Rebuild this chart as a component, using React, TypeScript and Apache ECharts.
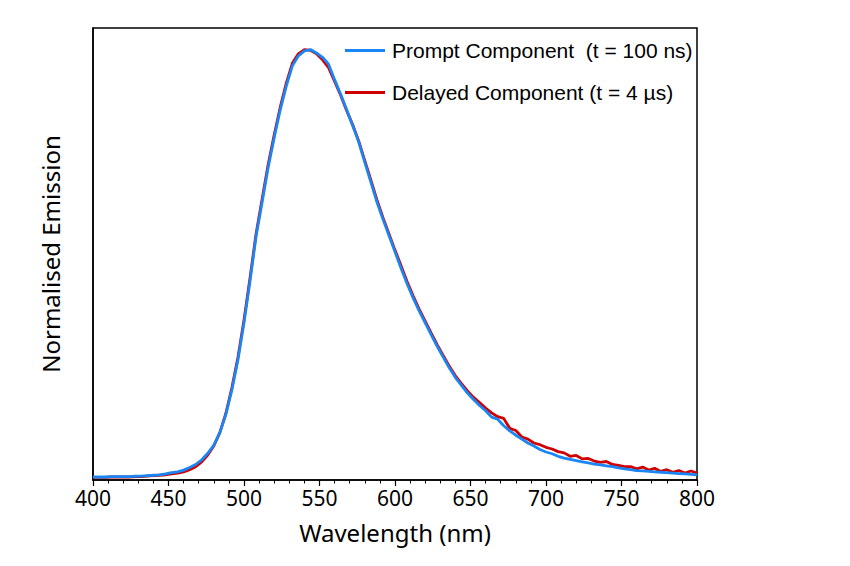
import React, { useEffect, useRef } from "react";
import * as echarts from "echarts";

const wavelengths: number[] = [];
for (let w = 400; w <= 800; w += 4) wavelengths.push(w);

const promptValues = [
  0.007, 0.007, 0.007, 0.008, 0.008, 0.008, 0.008, 0.009, 0.009, 0.010,
  0.011, 0.012, 0.014, 0.017, 0.019, 0.023, 0.029, 0.036, 0.047, 0.062,
  0.081, 0.110, 0.152, 0.210, 0.279, 0.365, 0.462, 0.566, 0.645, 0.726,
  0.795, 0.860, 0.915, 0.962, 0.985, 0.997, 1.000, 0.992, 0.982, 0.966,
  0.930, 0.896, 0.860, 0.823, 0.785, 0.738, 0.692, 0.646, 0.606, 0.568,
  0.530, 0.492, 0.456, 0.423, 0.393, 0.365, 0.337, 0.310, 0.285, 0.260,
  0.238, 0.220, 0.202, 0.187, 0.173, 0.161, 0.146, 0.141, 0.126, 0.114,
  0.104, 0.095, 0.086, 0.079, 0.071, 0.065, 0.061, 0.055, 0.051, 0.048,
  0.045, 0.042, 0.040, 0.037, 0.035, 0.033, 0.031, 0.028, 0.026, 0.024,
  0.022, 0.021, 0.020, 0.019, 0.018, 0.017, 0.016, 0.015, 0.014, 0.013,
  0.012,
];

const delayedValues = [
  0.006, 0.006, 0.006, 0.007, 0.007, 0.007, 0.007, 0.008, 0.008, 0.009,
  0.010, 0.011, 0.012, 0.014, 0.016, 0.019, 0.024, 0.031, 0.042, 0.058,
  0.079, 0.110, 0.155, 0.215, 0.285, 0.372, 0.470, 0.572, 0.653, 0.733,
  0.802, 0.866, 0.922, 0.968, 0.990, 1.000, 0.998, 0.990, 0.976, 0.958,
  0.926, 0.894, 0.858, 0.825, 0.787, 0.742, 0.697, 0.651, 0.610, 0.572,
  0.534, 0.498, 0.461, 0.428, 0.397, 0.369, 0.341, 0.314, 0.289, 0.264,
  0.242, 0.224, 0.207, 0.192, 0.180, 0.167, 0.156, 0.147, 0.143, 0.120,
  0.115, 0.100, 0.095, 0.086, 0.082, 0.076, 0.072, 0.066, 0.063, 0.055,
  0.057, 0.049, 0.050, 0.044, 0.041, 0.043, 0.036, 0.034, 0.031, 0.031,
  0.026, 0.030, 0.023, 0.027, 0.020, 0.024, 0.018, 0.022, 0.016, 0.021,
  0.016,
];

const xTicks = [400, 450, 500, 550, 600, 650, 700, 750, 800];
const promptName = "Prompt Component  (t = 100 ns)";
const delayedName = "Delayed Component (t = 4 \u00b5s)";

const BLUE = "#1a86f5";
const RED = "#d00000";

export default function App() {
  const ref = useRef<HTMLDivElement>(null);
  useEffect(() => {
    if (!ref.current) return;
    const chart = echarts.init(ref.current, undefined, { renderer: "svg" });
    const pts = (vals: number[]) => wavelengths.map((w, i) => [w, vals[i]]);
    chart.setOption({
      animation: false,
      backgroundColor: "#ffffff",
      grid: {
        left: 93,
        right: 153,
        top: 28,
        bottom: 86,
        show: true,
        borderColor: "#000",
        borderWidth: 1.5,
        backgroundColor: "transparent",
      },
      legend: {
        data: [
          { name: promptName, itemStyle: { color: BLUE } },
          { name: delayedName, itemStyle: { color: RED } },
        ],
        orient: "vertical",
        left: 345,
        top: 40,
        padding: 0,
        icon: "rect",
        itemWidth: 40,
        itemHeight: 3,
        itemGap: 21,
        textStyle: {
          fontFamily: "Liberation Sans",
          fontSize: 21,
          color: "#000",
          padding: [0, 0, 0, 2],
        },
      },
      xAxis: {
        type: "value",
        min: xTicks[0],
        max: xTicks[xTicks.length - 1],
        interval: 50,
        name: "Wavelength (nm)",
        nameLocation: "middle",
        nameGap: 40,
        nameTextStyle: { fontFamily: "Noto Sans", fontSize: 24, color: "#000" },
        axisLine: { show: true, onZero: false, lineStyle: { color: "#000", width: 1.5 } },
        axisTick: { show: true, inside: false, length: 6, lineStyle: { color: "#000", width: 1.2 } },
        minorTick: { show: true, splitNumber: 5, length: 3.5, lineStyle: { color: "#000", width: 1 } },
        axisLabel: { fontFamily: "Noto Sans", fontSize: 21, color: "#000", margin: 7 },
        splitLine: { show: false },
      },
      yAxis: {
        type: "value",
        min: 0,
        max: 1.05,
        name: "Normalised Emission",
        nameLocation: "middle",
        nameGap: 31,
        nameRotate: 90,
        nameTextStyle: { fontFamily: "Noto Sans", fontSize: 24, color: "#000" },
        axisLine: { show: true, lineStyle: { color: "#000", width: 1.5 } },
        axisTick: { show: false },
        axisLabel: { show: false },
        splitLine: { show: false },
      },
      series: [
        {
          name: delayedName,
          type: "line",
          data: pts(delayedValues),
          showSymbol: false,
          symbol: "none",
          lineStyle: { color: RED, width: 2.8 },
          itemStyle: { color: RED },
        },
        {
          name: promptName,
          type: "line",
          data: pts(promptValues),
          showSymbol: false,
          symbol: "none",
          lineStyle: { color: BLUE, width: 2.8 },
          itemStyle: { color: BLUE },
        },
      ],
    });
    return () => chart.dispose();
  }, []);
  return <div ref={ref} style={{ width: 850, height: 566, margin: -8 }} />;
}
